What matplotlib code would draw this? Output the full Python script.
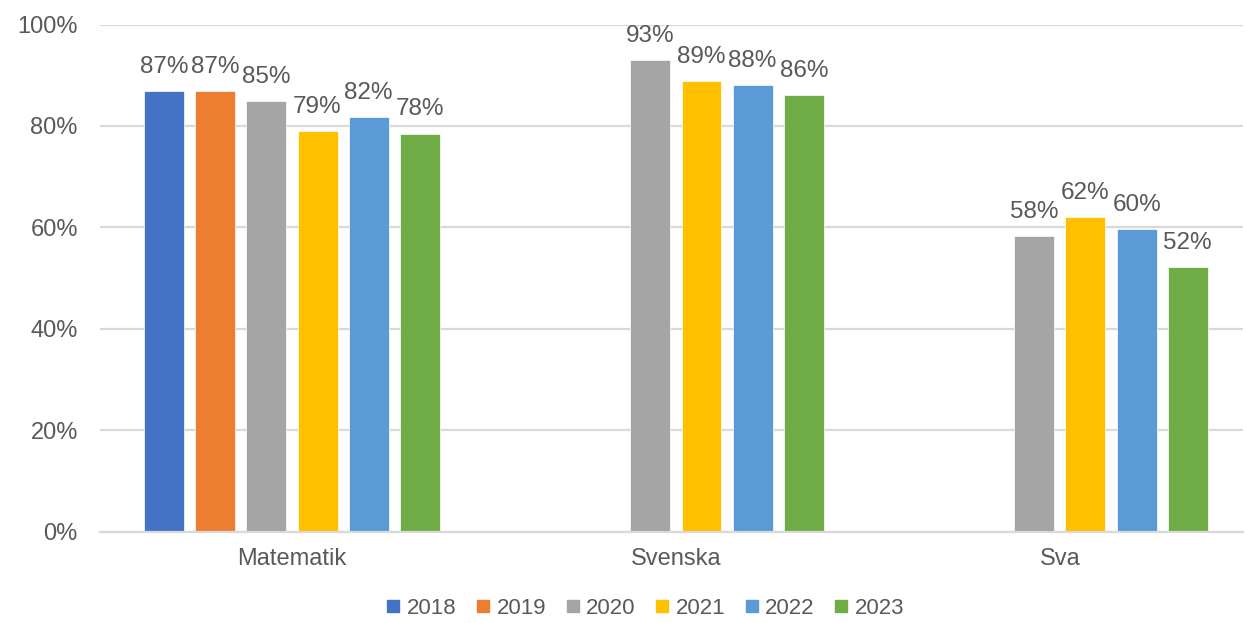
import matplotlib.pyplot as plt
from matplotlib.lines import Line2D
import numpy as np

plt.rcParams['font.family'] = ['Liberation Sans', 'DejaVu Sans']

categories = ['Matematik', 'Svenska', 'Sva']
years = ['2018', '2019', '2020', '2021', '2022', '2023']
# percent per year, None where a subject has no value for that year
values_2018 = [86.9, None, None]
values_2019 = [86.9, None, None]
values_2020 = [84.9, 93.0, 58.2]
values_2021 = [79.0, 88.9, 62.0]
values_2022 = [81.8, 88.1, 59.7]
values_2023 = [78.5, 86.1, 52.1]
series = [values_2018, values_2019, values_2020, values_2021, values_2022, values_2023]
colours = ['#4472C4', '#ED7D31', '#A5A5A5', '#FFC000', '#5B9BD5', '#70AD47']

text_col = '#595959'
grid_col = '#d9d9d9'

fig = plt.figure(figsize=(12.46, 6.23), dpi=100)
ax = fig.add_axes([100 / 1246, 1 - 531.5 / 623, 1143 / 1246, 507 / 623])

x = np.arange(len(categories))
stride = 0.1333
width = 0.104
for i, (vals, col) in enumerate(zip(series, colours)):
    pos = x + (i - 2.5) * stride
    for p, v in zip(pos, vals):
        if v is None:
            continue
        ax.bar(p, v, width=width, color=col, edgecolor='white', linewidth=0.5, zorder=3)
        ax.annotate(f'{round(v):.0f}%', (p, v), xytext=(0, 13), textcoords='offset points',
                    ha='center', va='baseline', fontsize=17.5, color=text_col)

ax.set_xlim(-0.5, 2.477)
ax.set_ylim(0, 100)
ax.set_yticks(np.arange(0, 101, 20))
ax.set_yticklabels([f'{t}%' for t in range(0, 101, 20)])
ax.set_xticks(x)
ax.set_xticklabels(categories)
ax.tick_params(axis='both', length=0, labelsize=17, colors=text_col)
ax.tick_params(axis='x', pad=12)
ax.tick_params(axis='y', pad=16)
ax.grid(axis='y', color=grid_col, linewidth=1.6, zorder=0)
for s in ['top', 'right', 'left']:
    ax.spines[s].set_visible(False)
ax.spines['bottom'].set_color(grid_col)
ax.spines['bottom'].set_linewidth(1.6)
ax.spines['bottom'].set_zorder(4)

handles = [Line2D([], [], marker='s', linestyle='none', color=c, markersize=8) for c in colours]
leg = fig.legend(handles, years, loc='center', bbox_to_anchor=(0.518, 0.024), ncol=6,
                 frameon=False, fontsize=16, handlelength=0.6, handletextpad=0.3,
                 columnspacing=0.9, labelcolor=text_col)

fig.savefig('out.png', dpi=100)
